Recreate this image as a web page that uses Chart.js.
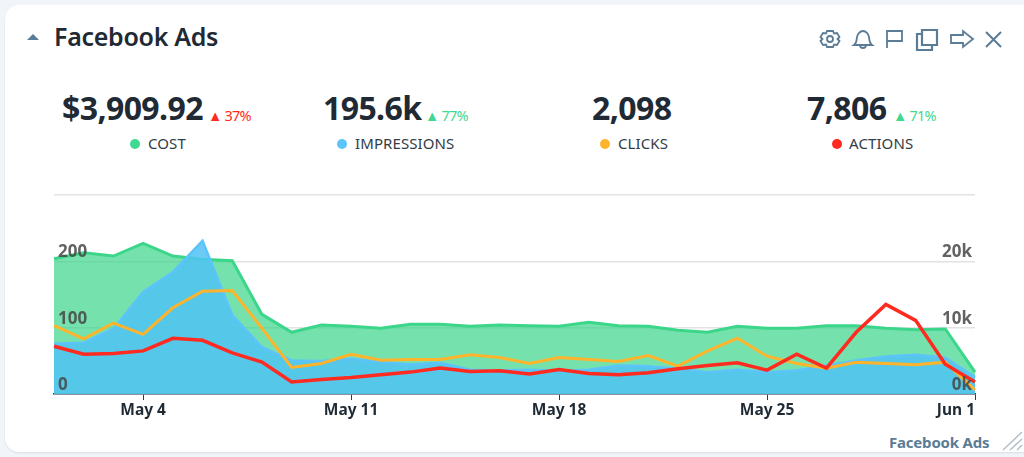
<!DOCTYPE html>
<html lang="en">
<head>
    <meta charset="UTF-8">
    <title>Facebook Ads</title>
    <script src="https://cdn.jsdelivr.net/npm/chart.js@4"></script>
    <style>
        html, body { margin: 0; padding: 0; width: 1024px; height: 457px; overflow: hidden; background: #f1f5f9; font-family: "Noto Sans", sans-serif; color: #1f2a35; }
        .card { position: absolute; left: 5px; top: 5px; width: 1030px; height: 447px; background: #fff; border-radius: 14px; box-shadow: 0 1px 2px #d8dee4; }
        .abs { position: absolute; white-space: nowrap; }
        .title { left: 54px; top: 19px; font-size: 25px; font-weight: 600; line-height: 34px; letter-spacing: -0.3px; }
        .value { top: 87px; font-size: 32px; font-weight: 700; line-height: 42px; letter-spacing: -0.6px; }
        .delta { top: 105px; font-size: 14.5px; line-height: 20px; letter-spacing: -0.8px; }
        .name { top: 133px; font-size: 15px; line-height: 20px; color: #333d47; letter-spacing: 0.1px; }
        .dot { position: absolute; top: 139px; width: 10px; height: 10px; border-radius: 50%; }
        .red { color: #ff2a20; }
        .green { color: #3fd98f; }
        .footer { left: 889px; top: 432px; font-size: 15px; font-weight: 700; line-height: 20px; color: #5b7c96; letter-spacing: -0.2px; }
        #wrap { position: absolute; left: 0; top: 180px; width: 1024px; height: 240px; }
        svg.abs { overflow: visible; }
    </style>
</head>
<body>
    <div class="card"></div>

    <svg class="abs" style="left:0;top:0" width="1024" height="457" fill="none" stroke="#5b7c96" stroke-width="1.8">
        <path d="M27 40 L33 34 L39 40 Z" fill="#5b7c96" stroke="none"/>
        <circle cx="830" cy="39" r="3"/>
        <path d="M827 31 h6 l1 2.5 l3 -0.5 l2.5 4 l-2 2 l2 2 l-2.5 4 l-3 -0.5 l-1 2.5 h-6 l-1 -2.5 l-3 0.5 l-2.5 -4 l2 -2 l-2 -2 l2.5 -4 l3 0.5 z"/>
        <path d="M854 45 c3 -2 2.500 -5 3 -8 c0.500 -3 3 -6 6 -6 c3 0 5.500 3 6 6 c0.500 3 0 6 3 8 z"/>
        <path d="M860 45 c0 4 6 4 6 0"/>
        <path d="M887 48 V31 H902 V41 H887"/>
        <path d="M922 30 H937 V45 H922 Z" stroke-width="2.2"/>
        <path d="M922 34 H917 V50 H932 V45" stroke-width="2.2"/>
        <path d="M951 35 H963 V31 L973 39 L963 47 V43 H951 Z"/>
        <path d="M986 32 L1001 47 M1001 32 L986 47" stroke-width="2"/>
        <path d="M1003 450 L1022 432 M1010 450 L1022 439 M1017 450 L1022 445" stroke="#b4c2ce" stroke-width="1.6"/>
    </svg>

    <div class="abs title">Facebook Ads</div>

    <div class="abs value" style="left:62px">$3,909.92</div>
    <div class="abs delta red" style="left:208px">▲ 37%</div>
    <div class="dot" style="left:130px;background:#3fd98f"></div>
    <div class="abs name" style="left:148px">COST</div>

    <div class="abs value" style="left:323px">195.6k</div>
    <div class="abs delta green" style="left:425px">▲ 77%</div>
    <div class="dot" style="left:337px;background:#5cc4fb"></div>
    <div class="abs name" style="left:355px">IMPRESSIONS</div>

    <div class="abs value" style="left:592px">2,098</div>
    <div class="dot" style="left:600px;background:#fdb42c"></div>
    <div class="abs name" style="left:618px">CLICKS</div>

    <div class="abs value" style="left:807px">7,806</div>
    <div class="abs delta green" style="left:893px">▲ 71%</div>
    <div class="dot" style="left:832px;background:#ff2a20"></div>
    <div class="abs name" style="left:849px">ACTIONS</div>

    <div class="abs footer">Facebook Ads</div>

    <div id="wrap"><canvas id="myChart"></canvas></div>

    <script>
        const days = ['May 1','May 2','May 3','May 4','May 5','May 6','May 7','May 8','May 9','May 10','May 11','May 12','May 13','May 14','May 15','May 16','May 17','May 18','May 19','May 20','May 21','May 22','May 23','May 24','May 25','May 26','May 27','May 28','May 29','May 30','May 31','Jun 1'];
        const shownDays = ['May 4','May 11','May 18','May 25','Jun 1'];

        const cost = [204,213,208,227,208,203,201,120,93,104,102,99,105,105,102,104,103,102,108,103,102,96,93,102,99,99,103,103,99,97,98,33];
        const impressions = [7590,7740,9850,15400,18400,23100,11900,7070,5060,4960,5320,4810,4460,4720,3660,3550,3660,3450,3660,4310,4200,3810,3290,3660,3290,3550,4310,5060,5670,5920,5470,2540];
        const clicks = [103,83,107,90,130,155,156,99,40,46,60,51,52,52,59,55,46,55,52,49,58,42,65,84,57,46,39,48,46,44,48,6];
        const actions = [72,60,61,65,84,81,62,48,18,22,25,29,33,39,34,35,30,37,31,29,32,38,43,47,36,60,39,93,135,111,45,18];

        const leftTicks = [0,100,200];
        const rightTicks = [0,10000,20000];

        const tickFont = { family: '"Noto Sans", sans-serif', size: 17, weight: '700' };

        // labels sit inside the plot, so the y axes must not take any room
        function flatAxis(scale) {
            scale.width = 0;
            scale.paddingTop = 0;
            scale.paddingBottom = 0;
        }

        const ctx = document.getElementById('myChart');
        const myChart = new Chart(ctx, {
            type: 'line',
            data: {
                labels: days,
                datasets: [{
                    label: 'ACTIONS',
                    data: actions,
                    yAxisID: 'y',
                    borderColor: '#ff2a20',
                    borderWidth: 3.5,
                    fill: false,
                    order: 1
                },{
                    label: 'CLICKS',
                    data: clicks,
                    yAxisID: 'y',
                    borderColor: '#fdb42c',
                    borderWidth: 3,
                    fill: false,
                    order: 2
                },{
                    label: 'IMPRESSIONS',
                    data: impressions,
                    yAxisID: 'y1',
                    borderColor: '#5cc4fb',
                    backgroundColor: 'rgba(80,195,245,0.85)',
                    borderWidth: 2.5,
                    fill: 'origin',
                    order: 3
                },{
                    label: 'COST',
                    data: cost,
                    yAxisID: 'y',
                    borderColor: '#3bd68a',
                    backgroundColor: 'rgba(59,214,138,0.7)',
                    borderWidth: 3,
                    fill: 'origin',
                    order: 4
                }]
            },
            options: {
                responsive: true,
                maintainAspectRatio: false,
                animation: false,
                layout: { padding: { left: 54, right: 49, top: 15, bottom: 0 } },
                elements: { point: { radius: 0 }, line: { tension: 0, borderJoinStyle: 'miter' } },
                plugins: { legend: { display: false }, tooltip: { enabled: false } },
                scales: {
                    x: {
                        afterBuildTicks: function (scale) {
                            // the first tick stays, blank, so that align inner only moves Jun 1
                            scale.ticks = scale.ticks.filter(t => t.value === 0 || shownDays.includes(days[t.value]));
                        },
                        afterFit: function (scale) { scale.height = 26; scale.paddingLeft = 0; scale.paddingRight = 0; },
                        border: { color: '#2f3a44', width: 1.5 },
                        grid: {
                            drawOnChartArea: false,
                            tickLength: 6,
                            tickColor: c => (c.tick && c.tick.value === 0) ? 'transparent' : '#2f3a44'
                        },
                        ticks: {
                            autoSkip: false,
                            maxRotation: 0,
                            align: 'inner',
                            padding: 1,
                            color: '#1f2a35',
                            font: { family: '"Noto Sans", sans-serif', size: 15.5, weight: '700' },
                            callback: function (v) { return shownDays.includes(days[v]) ? days[v] : ''; }
                        }
                    },
                    y: {
                        position: 'left',
                        min: 0,
                        max: 300,
                        afterFit: flatAxis,
                        border: { display: false },
                        grid: { color: '#e2e2e2', lineWidth: 1.5, drawTicks: false },
                        ticks: {
                            stepSize: 100,
                            mirror: true,
                            padding: 4,
                            labelOffset: -9,
                            z: 5,
                            color: 'rgba(70,70,70,0.85)',
                            font: tickFont,
                            callback: v => leftTicks.includes(v) ? String(v) : ''
                        }
                    },
                    y1: {
                        position: 'right',
                        min: 0,
                        max: 30000,
                        afterFit: flatAxis,
                        border: { display: false },
                        grid: { display: false, drawTicks: false },
                        ticks: {
                            stepSize: 10000,
                            mirror: true,
                            padding: -3,
                            labelOffset: -9,
                            z: 5,
                            color: 'rgba(70,70,70,0.85)',
                            font: tickFont,
                            callback: v => rightTicks.includes(v) ? (v / 1000) + 'k' : ''
                        }
                    }
                }
            }
        });
    </script>
</body>
</html>
